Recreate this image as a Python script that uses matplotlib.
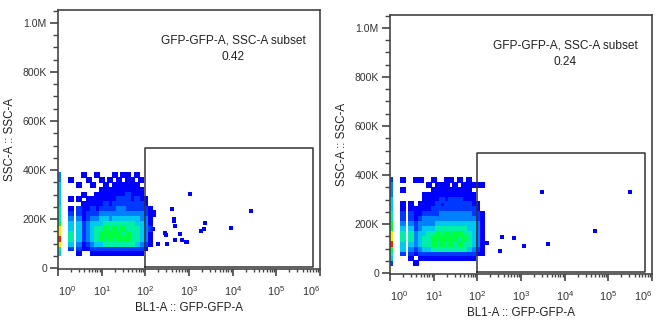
import matplotlib
matplotlib.use('Agg')
import matplotlib.pyplot as plt
from matplotlib.ticker import FixedLocator, LogLocator, NullFormatter, MultipleLocator

plt.rcParams['font.family'] = ['Liberation Sans', 'DejaVu Sans']
plt.rcParams['mathtext.fontset'] = 'custom'
plt.rcParams['mathtext.rm'] = 'Liberation Sans'
plt.rcParams['mathtext.it'] = 'Liberation Sans'
plt.rcParams['mathtext.bf'] = 'Liberation Sans'

# ---------------- data ----------------
x_label = "BL1-A :: GFP-GFP-A"
y_label = "SSC-A :: SSC-A"
gate_name = "GFP-GFP-A, SSC-A subset"
left_freq = "0.42"
right_freq = "0.24"

x_tick_values = [1, 10, 100, 1000, 10000, 100000, 1000000]
x_tick_labels = ["$10^{0}$", "$10^{1}$", "$10^{2}$", "$10^{3}$", "$10^{4}$", "$10^{5}$", "$10^{6}$"]
y_tick_values = [0, 200000, 400000, 600000, 800000, 1000000]
y_tick_labels = ["0", "200K", "400K", "600K", "800K", "1.0M"]

# gate rectangle (GFP, SSC)
gate_x = [100, 690000]
gate_y = [4000, 490000]

# density grid: column centres (GFP) and row centres (SSC); digits = density level
cell_x = [1, 2, 3, 4, 5, 6.3, 7.9, 10, 12.6, 15.8, 20, 25, 31.6, 40, 50, 63, 79, 100, 126]
cell_y = [380000, 360000, 340000, 320000, 300000, 280000, 260000, 240000, 220000,
          200000, 180000, 160000, 140000, 120000, 100000, 80000, 60000, 40000]

left_density = [
    "300" "100100010110100" "0",
    "310" "010010101011010" "0",
    "401" "001001011111100" "0",
    "400" "000011111111110" "0",
    "400" "100111111121110" "0",
    "411" "011111112221211" "0",
    "400" "111112122222221" "0",
    "512" "112122223322222" "1",
    "522" "122233333333332" "1",
    "533" "123344344444433" "1",
    "644" "234445555555443" "1",
    "744" "234556565655543" "2",
    "754" "234566666565543" "1",
    "854" "234565656665543" "1",
    "743" "123445555555432" "1",
    "522" "112222222222221" "0",
    "401" "001111111111110" "0",
    "000" "000000000000000" "0",
]

right_density = [
    "210" "110010011010100" "0",
    "300" "000101110101111" "1",
    "310" "000011111111100" "0",
    "300" "001111111111110" "0",
    "400" "001111212221110" "0",
    "411" "011112122222211" "0",
    "411" "111122222222221" "0",
    "522" "112222333333322" "1",
    "522" "123333333333332" "1",
    "633" "233334444444443" "1",
    "644" "234445555555443" "1",
    "755" "344556565665543" "1",
    "755" "345566666656543" "1",
    "844" "345565656565543" "1",
    "643" "234455555555432" "1",
    "522" "122222222222221" "1",
    "401" "011111111111110" "0",
    "200" "100000000000000" "0",
]

# sparse single events
left_events_x = [1050, 26300, 9330, 2290, 1860, 2190, 631, 676, 832, 891, 417, 457, 457,
                 479, 479, 275, 295, 195, 316, 155, 158, 148]
left_events_y = [302000, 231000, 165000, 185000, 152000, 159000, 139000, 114000, 107000,
                 107000, 240000, 200000, 190000, 173000, 114000, 144000, 135000, 98000,
                 98000, 227000, 216000, 159000]

right_events_x = [3020, 309000, 49000, 4170, 1200, 676, 372, 339, 170, 148]
right_events_y = [329000, 329000, 173000, 118000, 110000, 144000, 147000, 90000, 124000, 124000]

level_colors = {1: '#0000ff', 2: '#0038ff', 3: '#0080ff', 4: '#00c8f0',
                5: '#00f0a8', 6: '#00ff40', 7: '#f0f000', 8: '#ff2000'}

# ---------------- drawing ----------------
fig = plt.figure(figsize=(6.6, 3.31), dpi=100)
ax_left = fig.add_axes([58 / 660, 1 - 269 / 331, 262 / 660, 259 / 331])
ax_right = fig.add_axes([390 / 660, 1 - 274 / 331, 262 / 660, 259 / 331])

text_color = '#333333'
frame_color = '#444444'


def draw_panel(ax, density, ev_x, ev_y, freq):
    ax.set_xscale('log')
    ax.set_xlim(1, 1e6)
    ax.set_ylim(-4000, 1053000)

    for lvl in sorted(level_colors):
        xs, ys = [], []
        for r, row in enumerate(density):
            for c, ch in enumerate(row):
                if int(ch) == lvl:
                    xs.append(cell_x[c])
                    ys.append(cell_y[r])
        if xs:
            ax.scatter(xs, ys, s=17, marker='s', c=level_colors[lvl],
                       linewidths=0, zorder=2)

    ax.scatter(ev_x, ev_y, s=6.5, marker='s', c=level_colors[1], linewidths=0, zorder=3)

    gx = [gate_x[0], gate_x[1], gate_x[1], gate_x[0], gate_x[0]]
    gy = [gate_y[0], gate_y[0], gate_y[1], gate_y[1], gate_y[0]]
    ax.plot(gx, gy, color='#333333', lw=1.1, zorder=4)

    ax.text(0.668, 0.884, gate_name, transform=ax.transAxes, ha='center', va='center',
            fontsize=8.6, color='#222222')
    ax.text(0.668, 0.819, freq, transform=ax.transAxes, ha='center', va='center',
            fontsize=8.6, color='#222222')

    ax.xaxis.set_major_locator(FixedLocator(x_tick_values))
    ax.xaxis.set_minor_locator(LogLocator(base=10, subs=range(2, 10), numticks=20))
    ax.xaxis.set_minor_formatter(NullFormatter())
    ax.set_xticklabels(x_tick_labels)
    labs = ax.get_xticklabels()
    labs[0].set_ha('left')
    labs[-1].set_ha('right')

    ax.yaxis.set_major_locator(FixedLocator(y_tick_values))
    ax.set_yticklabels(y_tick_labels)
    ax.yaxis.set_minor_locator(MultipleLocator(50000))

    ax.tick_params(axis='x', which='major', direction='out', length=5, width=1.2,
                   pad=6, labelsize=7.8, colors=frame_color, labelcolor=text_color)
    ax.tick_params(axis='x', which='minor', direction='out', length=2.5, width=1.0,
                   colors=frame_color)
    ax.tick_params(axis='y', which='major', direction='out', length=6, width=1.2,
                   pad=2, labelsize=7.5, colors=frame_color, labelcolor=text_color)
    ax.tick_params(axis='y', which='minor', direction='out', length=3.5, width=1.0,
                   colors=frame_color)
    for sp in ax.spines.values():
        sp.set_color(frame_color)
        sp.set_linewidth(1.2)

    ax.set_xlabel(x_label, fontsize=8.4, color='#222222', labelpad=3)
    ax.set_ylabel(y_label, fontsize=8.4, color='#222222', labelpad=5)


draw_panel(ax_left, left_density, left_events_x, left_events_y, left_freq)
draw_panel(ax_right, right_density, right_events_x, right_events_y, right_freq)

fig.savefig('out.png', dpi=100, facecolor='white')
